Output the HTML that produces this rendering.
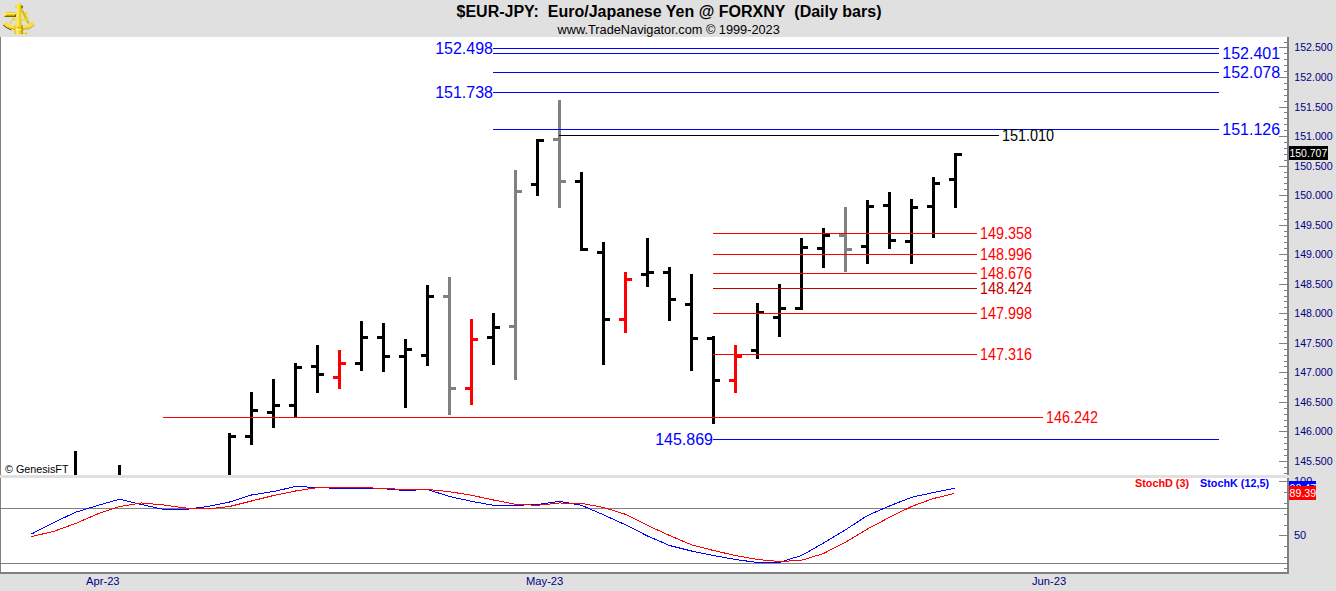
<!DOCTYPE html>
<html><head><meta charset="utf-8"><title>$EUR-JPY</title>
<style>
html,body{margin:0;padding:0;background:#e0e0e0;}
body{width:1336px;height:591px;overflow:hidden;position:relative;font-family:"Liberation Sans",sans-serif;}
svg{position:absolute;left:0;top:0;}
text{font-family:"Liberation Sans",sans-serif;}
</style></head><body>
<svg width="1336" height="591" viewBox="0 0 1336 591">
<rect x="0" y="0" width="1336" height="591" fill="#e0e0e0"/>
<rect x="0" y="37" width="1287" height="438" fill="#fff"/>
<rect x="0" y="478" width="1287" height="94" fill="#fff"/>
<g shape-rendering="crispEdges">

<rect x="0" y="37" width="1" height="438" fill="#808080"/>
<rect x="0" y="478" width="1" height="96" fill="#808080"/>
<rect x="1287" y="37" width="2" height="438" fill="#808080"/>
<rect x="1287" y="478" width="2" height="96" fill="#808080"/>
<rect x="0" y="572" width="1289" height="2" fill="#808080"/>
<rect x="1" y="508" width="1286" height="1" fill="#808080"/>
<rect x="1" y="563" width="1286" height="1" fill="#808080"/>
<rect x="1284" y="42" width="3" height="1" fill="#808080"/>
<rect x="1279" y="47" width="8" height="1" fill="#808080"/>
<rect x="1284" y="53" width="3" height="1" fill="#808080"/>
<rect x="1284" y="59" width="3" height="1" fill="#808080"/>
<rect x="1284" y="65" width="3" height="1" fill="#808080"/>
<rect x="1284" y="71" width="3" height="1" fill="#808080"/>
<rect x="1279" y="77" width="8" height="1" fill="#808080"/>
<rect x="1284" y="83" width="3" height="1" fill="#808080"/>
<rect x="1284" y="89" width="3" height="1" fill="#808080"/>
<rect x="1284" y="95" width="3" height="1" fill="#808080"/>
<rect x="1284" y="101" width="3" height="1" fill="#808080"/>
<rect x="1279" y="107" width="8" height="1" fill="#808080"/>
<rect x="1284" y="112" width="3" height="1" fill="#808080"/>
<rect x="1284" y="118" width="3" height="1" fill="#808080"/>
<rect x="1284" y="124" width="3" height="1" fill="#808080"/>
<rect x="1284" y="130" width="3" height="1" fill="#808080"/>
<rect x="1279" y="136" width="8" height="1" fill="#808080"/>
<rect x="1284" y="142" width="3" height="1" fill="#808080"/>
<rect x="1284" y="148" width="3" height="1" fill="#808080"/>
<rect x="1284" y="154" width="3" height="1" fill="#808080"/>
<rect x="1284" y="160" width="3" height="1" fill="#808080"/>
<rect x="1279" y="166" width="8" height="1" fill="#808080"/>
<rect x="1284" y="172" width="3" height="1" fill="#808080"/>
<rect x="1284" y="177" width="3" height="1" fill="#808080"/>
<rect x="1284" y="183" width="3" height="1" fill="#808080"/>
<rect x="1284" y="189" width="3" height="1" fill="#808080"/>
<rect x="1279" y="195" width="8" height="1" fill="#808080"/>
<rect x="1284" y="201" width="3" height="1" fill="#808080"/>
<rect x="1284" y="207" width="3" height="1" fill="#808080"/>
<rect x="1284" y="213" width="3" height="1" fill="#808080"/>
<rect x="1284" y="219" width="3" height="1" fill="#808080"/>
<rect x="1279" y="225" width="8" height="1" fill="#808080"/>
<rect x="1284" y="231" width="3" height="1" fill="#808080"/>
<rect x="1284" y="236" width="3" height="1" fill="#808080"/>
<rect x="1284" y="242" width="3" height="1" fill="#808080"/>
<rect x="1284" y="248" width="3" height="1" fill="#808080"/>
<rect x="1279" y="254" width="8" height="1" fill="#808080"/>
<rect x="1284" y="260" width="3" height="1" fill="#808080"/>
<rect x="1284" y="266" width="3" height="1" fill="#808080"/>
<rect x="1284" y="272" width="3" height="1" fill="#808080"/>
<rect x="1284" y="278" width="3" height="1" fill="#808080"/>
<rect x="1279" y="284" width="8" height="1" fill="#808080"/>
<rect x="1284" y="290" width="3" height="1" fill="#808080"/>
<rect x="1284" y="296" width="3" height="1" fill="#808080"/>
<rect x="1284" y="301" width="3" height="1" fill="#808080"/>
<rect x="1284" y="307" width="3" height="1" fill="#808080"/>
<rect x="1279" y="313" width="8" height="1" fill="#808080"/>
<rect x="1284" y="319" width="3" height="1" fill="#808080"/>
<rect x="1284" y="325" width="3" height="1" fill="#808080"/>
<rect x="1284" y="331" width="3" height="1" fill="#808080"/>
<rect x="1284" y="337" width="3" height="1" fill="#808080"/>
<rect x="1279" y="343" width="8" height="1" fill="#808080"/>
<rect x="1284" y="349" width="3" height="1" fill="#808080"/>
<rect x="1284" y="355" width="3" height="1" fill="#808080"/>
<rect x="1284" y="361" width="3" height="1" fill="#808080"/>
<rect x="1284" y="366" width="3" height="1" fill="#808080"/>
<rect x="1279" y="372" width="8" height="1" fill="#808080"/>
<rect x="1284" y="378" width="3" height="1" fill="#808080"/>
<rect x="1284" y="384" width="3" height="1" fill="#808080"/>
<rect x="1284" y="390" width="3" height="1" fill="#808080"/>
<rect x="1284" y="396" width="3" height="1" fill="#808080"/>
<rect x="1279" y="402" width="8" height="1" fill="#808080"/>
<rect x="1284" y="408" width="3" height="1" fill="#808080"/>
<rect x="1284" y="414" width="3" height="1" fill="#808080"/>
<rect x="1284" y="420" width="3" height="1" fill="#808080"/>
<rect x="1284" y="426" width="3" height="1" fill="#808080"/>
<rect x="1279" y="431" width="8" height="1" fill="#808080"/>
<rect x="1284" y="437" width="3" height="1" fill="#808080"/>
<rect x="1284" y="443" width="3" height="1" fill="#808080"/>
<rect x="1284" y="449" width="3" height="1" fill="#808080"/>
<rect x="1284" y="455" width="3" height="1" fill="#808080"/>
<rect x="1279" y="461" width="8" height="1" fill="#808080"/>
<rect x="1284" y="467" width="3" height="1" fill="#808080"/>
<rect x="1284" y="473" width="3" height="1" fill="#808080"/>
<rect x="1279" y="481" width="8" height="1" fill="#808080"/>
<rect x="1284" y="492" width="3" height="1" fill="#808080"/>
<rect x="1284" y="503" width="3" height="1" fill="#808080"/>
<rect x="1284" y="514" width="3" height="1" fill="#808080"/>
<rect x="1284" y="525" width="3" height="1" fill="#808080"/>
<rect x="1279" y="535" width="8" height="1" fill="#808080"/>
<rect x="1284" y="546" width="3" height="1" fill="#808080"/>
<rect x="1284" y="557" width="3" height="1" fill="#808080"/>
<rect x="1284" y="568" width="3" height="1" fill="#808080"/>
<rect x="74" y="451" width="3" height="24" fill="#000"/>
<rect x="118" y="465" width="3" height="10" fill="#000"/>
<rect x="228" y="433" width="3" height="42" fill="#000"/>
<rect x="231" y="435" width="5" height="3" fill="#000"/>
<rect x="250" y="392" width="3" height="53" fill="#000"/>
<rect x="245" y="435" width="5" height="3" fill="#000"/>
<rect x="253" y="409" width="5" height="3" fill="#000"/>
<rect x="272" y="379" width="3" height="49" fill="#000"/>
<rect x="267" y="411" width="5" height="3" fill="#000"/>
<rect x="275" y="404" width="5" height="3" fill="#000"/>
<rect x="294" y="363" width="3" height="54" fill="#000"/>
<rect x="289" y="404" width="5" height="3" fill="#000"/>
<rect x="297" y="366" width="5" height="3" fill="#000"/>
<rect x="316" y="345" width="3" height="48" fill="#000"/>
<rect x="311" y="365" width="5" height="3" fill="#000"/>
<rect x="319" y="373" width="5" height="3" fill="#000"/>
<rect x="338" y="350" width="3" height="39" fill="#f00"/>
<rect x="333" y="376" width="5" height="3" fill="#f00"/>
<rect x="341" y="362" width="5" height="3" fill="#f00"/>
<rect x="360" y="321" width="3" height="50" fill="#000"/>
<rect x="355" y="362" width="5" height="3" fill="#000"/>
<rect x="363" y="336" width="5" height="3" fill="#000"/>
<rect x="382" y="323" width="3" height="49" fill="#000"/>
<rect x="377" y="336" width="5" height="3" fill="#000"/>
<rect x="385" y="355" width="5" height="3" fill="#000"/>
<rect x="404" y="339" width="3" height="69" fill="#000"/>
<rect x="399" y="355" width="5" height="3" fill="#000"/>
<rect x="407" y="348" width="5" height="3" fill="#000"/>
<rect x="426" y="285" width="3" height="81" fill="#000"/>
<rect x="421" y="354" width="5" height="3" fill="#000"/>
<rect x="429" y="295" width="5" height="3" fill="#000"/>
<rect x="448" y="277" width="3" height="138" fill="#808080"/>
<rect x="443" y="295" width="5" height="3" fill="#808080"/>
<rect x="451" y="387" width="5" height="3" fill="#808080"/>
<rect x="470" y="319" width="3" height="86" fill="#f00"/>
<rect x="465" y="387" width="5" height="3" fill="#f00"/>
<rect x="473" y="338" width="5" height="3" fill="#f00"/>
<rect x="492" y="313" width="3" height="52" fill="#000"/>
<rect x="487" y="336" width="5" height="3" fill="#000"/>
<rect x="495" y="326" width="5" height="3" fill="#000"/>
<rect x="514" y="170" width="3" height="210" fill="#808080"/>
<rect x="509" y="325" width="5" height="3" fill="#808080"/>
<rect x="517" y="190" width="5" height="3" fill="#808080"/>
<rect x="536" y="139" width="3" height="57" fill="#000"/>
<rect x="531" y="183" width="5" height="3" fill="#000"/>
<rect x="539" y="139" width="5" height="3" fill="#000"/>
<rect x="558" y="100" width="3" height="108" fill="#808080"/>
<rect x="553" y="138" width="5" height="3" fill="#808080"/>
<rect x="561" y="180" width="5" height="3" fill="#808080"/>
<rect x="580" y="172" width="3" height="79" fill="#000"/>
<rect x="575" y="180" width="5" height="3" fill="#000"/>
<rect x="583" y="248" width="5" height="3" fill="#000"/>
<rect x="602" y="242" width="3" height="123" fill="#000"/>
<rect x="597" y="251" width="5" height="3" fill="#000"/>
<rect x="605" y="318" width="5" height="3" fill="#000"/>
<rect x="624" y="272" width="3" height="61" fill="#f00"/>
<rect x="619" y="318" width="5" height="3" fill="#f00"/>
<rect x="627" y="278" width="5" height="3" fill="#f00"/>
<rect x="646" y="238" width="3" height="49" fill="#000"/>
<rect x="641" y="273" width="5" height="3" fill="#000"/>
<rect x="649" y="271" width="5" height="3" fill="#000"/>
<rect x="668" y="267" width="3" height="54" fill="#000"/>
<rect x="663" y="271" width="5" height="3" fill="#000"/>
<rect x="671" y="298" width="5" height="3" fill="#000"/>
<rect x="690" y="274" width="3" height="97" fill="#000"/>
<rect x="685" y="303" width="5" height="3" fill="#000"/>
<rect x="693" y="337" width="5" height="3" fill="#000"/>
<rect x="712" y="336" width="3" height="88" fill="#000"/>
<rect x="707" y="337" width="5" height="3" fill="#000"/>
<rect x="715" y="379" width="5" height="3" fill="#000"/>
<rect x="734" y="345" width="3" height="48" fill="#f00"/>
<rect x="729" y="379" width="5" height="3" fill="#f00"/>
<rect x="737" y="355" width="5" height="3" fill="#f00"/>
<rect x="756" y="303" width="3" height="56" fill="#000"/>
<rect x="751" y="349" width="5" height="3" fill="#000"/>
<rect x="759" y="311" width="5" height="3" fill="#000"/>
<rect x="778" y="284" width="3" height="53" fill="#000"/>
<rect x="773" y="316" width="5" height="3" fill="#000"/>
<rect x="781" y="307" width="5" height="3" fill="#000"/>
<rect x="800" y="238" width="3" height="72" fill="#000"/>
<rect x="795" y="307" width="5" height="3" fill="#000"/>
<rect x="803" y="246" width="5" height="3" fill="#000"/>
<rect x="822" y="228" width="3" height="40" fill="#000"/>
<rect x="817" y="247" width="5" height="3" fill="#000"/>
<rect x="825" y="234" width="5" height="3" fill="#000"/>
<rect x="844" y="207" width="3" height="65" fill="#808080"/>
<rect x="839" y="234" width="5" height="3" fill="#808080"/>
<rect x="847" y="248" width="5" height="3" fill="#808080"/>
<rect x="866" y="200" width="3" height="64" fill="#000"/>
<rect x="861" y="245" width="5" height="3" fill="#000"/>
<rect x="869" y="205" width="5" height="3" fill="#000"/>
<rect x="888" y="192" width="3" height="57" fill="#000"/>
<rect x="883" y="204" width="5" height="3" fill="#000"/>
<rect x="891" y="239" width="5" height="3" fill="#000"/>
<rect x="910" y="199" width="3" height="65" fill="#000"/>
<rect x="905" y="240" width="5" height="3" fill="#000"/>
<rect x="913" y="206" width="5" height="3" fill="#000"/>
<rect x="932" y="177" width="3" height="61" fill="#000"/>
<rect x="927" y="205" width="5" height="3" fill="#000"/>
<rect x="935" y="182" width="5" height="3" fill="#000"/>
<rect x="954" y="153" width="3" height="55" fill="#000"/>
<rect x="949" y="178" width="5" height="3" fill="#000"/>
<rect x="957" y="153" width="5" height="3" fill="#000"/>
<rect x="493" y="48" width="726" height="1" fill="#0000ff"/>
<rect x="493" y="53" width="726" height="1" fill="#0000ff"/>
<rect x="493" y="72" width="726" height="1" fill="#0000ff"/>
<rect x="493" y="92" width="726" height="1" fill="#0000ff"/>
<rect x="493" y="129" width="726" height="1" fill="#0000ff"/>
<rect x="559" y="135" width="440" height="1" fill="#000"/>
<rect x="713" y="233" width="264" height="1" fill="#f00"/>
<rect x="713" y="254" width="264" height="1" fill="#f00"/>
<rect x="713" y="273" width="264" height="1" fill="#f00"/>
<rect x="713" y="288" width="264" height="1" fill="#c00000"/>
<rect x="713" y="313" width="264" height="1" fill="#f00"/>
<rect x="713" y="354" width="264" height="1" fill="#f00"/>
<rect x="163" y="417" width="880" height="1" fill="#f00"/>
<rect x="713" y="439" width="506" height="1" fill="#0000ff"/>
</g>
<polyline points="31.5,534 53.5,522.6 75.5,512.3 97.5,505.5 119.5,499.2 141.5,504.5 163.5,509.4 185.5,509.4 207.5,506.5 229.5,502 251.5,495 273.5,491.5 295.5,486.5 317.5,487.5 339.5,488.5 361.5,488.5 383.5,488.7 405.5,490.5 427.5,489.5 449.5,496.5 471.5,501.3 493.5,505.3 515.5,505.3 537.5,504.5 559.5,501.3 581.5,505.3 603.5,514.8 625.5,524.8 647.5,536 669.5,545.5 691.5,551 713.5,555.5 735.5,559.5 757.5,562.5 779.5,562.3 801.5,555.5 823.5,543 845.5,529.8 867.5,515.5 889.5,506 911.5,497.3 933.5,492.5 954.5,488.3" fill="none" stroke="#00f" stroke-width="1" shape-rendering="crispEdges"/>
<polyline points="31.5,536.5 53.5,531.5 75.5,523.5 97.5,514 119.5,506.5 141.5,503 163.5,505 185.5,508 207.5,509 229.5,506.5 251.5,501 273.5,495.5 295.5,491 317.5,487.6 339.5,487.5 361.5,487.5 383.5,488.5 405.5,489.5 427.5,489.5 449.5,491.7 471.5,495.3 493.5,500 515.5,504.3 537.5,505.3 559.5,503 581.5,503.3 603.5,507.5 625.5,514.3 647.5,525.4 669.5,535.5 691.5,544.8 713.5,550.5 735.5,555.5 757.5,559.5 779.5,561.5 801.5,560.3 823.5,553.5 845.5,542.3 867.5,529 889.5,517.3 911.5,506.5 933.5,498.5 954.5,493.5" fill="none" stroke="#f00" stroke-width="1" shape-rendering="crispEdges"/>
<text x="669" y="17.4" font-size="16" fill="#000" text-anchor="middle" font-weight="bold">$EUR-JPY:&#160; Euro/Japanese Yen @ FORXNY&#160; (Daily bars)</text>
<text x="668.7" y="33.5" font-size="12.75" fill="#000" text-anchor="middle" font-weight="normal">www.TradeNavigator.com © 1999-2023</text>
<text x="1294.3" y="51" font-size="10.6" fill="#000080" text-anchor="start" font-weight="normal">152.500</text>
<text x="1294.3" y="81" font-size="10.6" fill="#000080" text-anchor="start" font-weight="normal">152.000</text>
<text x="1294.3" y="111" font-size="10.6" fill="#000080" text-anchor="start" font-weight="normal">151.500</text>
<text x="1294.3" y="140" font-size="10.6" fill="#000080" text-anchor="start" font-weight="normal">151.000</text>
<text x="1294.3" y="170" font-size="10.6" fill="#000080" text-anchor="start" font-weight="normal">150.500</text>
<text x="1294.3" y="199" font-size="10.6" fill="#000080" text-anchor="start" font-weight="normal">150.000</text>
<text x="1294.3" y="229" font-size="10.6" fill="#000080" text-anchor="start" font-weight="normal">149.500</text>
<text x="1294.3" y="258" font-size="10.6" fill="#000080" text-anchor="start" font-weight="normal">149.000</text>
<text x="1294.3" y="288" font-size="10.6" fill="#000080" text-anchor="start" font-weight="normal">148.500</text>
<text x="1294.3" y="317" font-size="10.6" fill="#000080" text-anchor="start" font-weight="normal">148.000</text>
<text x="1294.3" y="347" font-size="10.6" fill="#000080" text-anchor="start" font-weight="normal">147.500</text>
<text x="1294.3" y="376" font-size="10.6" fill="#000080" text-anchor="start" font-weight="normal">147.000</text>
<text x="1294.3" y="406" font-size="10.6" fill="#000080" text-anchor="start" font-weight="normal">146.500</text>
<text x="1294.3" y="435" font-size="10.6" fill="#000080" text-anchor="start" font-weight="normal">146.000</text>
<text x="1294.3" y="465" font-size="10.6" fill="#000080" text-anchor="start" font-weight="normal">145.500</text>
<text x="1294" y="485" font-size="11" fill="#000080" text-anchor="start" font-weight="normal">100</text>
<text x="1294" y="539" font-size="11" fill="#000080" text-anchor="start" font-weight="normal">50</text>
<text x="493" y="54" font-size="16" fill="#0000ff" text-anchor="end" font-weight="normal">152.498</text>
<text x="493" y="98" font-size="16" fill="#0000ff" text-anchor="end" font-weight="normal">151.738</text>
<text x="713" y="445" font-size="16" fill="#0000ff" text-anchor="end" font-weight="normal">145.869</text>
<text x="1222.3" y="59" font-size="16" fill="#0000ff" text-anchor="start" font-weight="normal">152.401</text>
<text x="1222.3" y="78" font-size="16" fill="#0000ff" text-anchor="start" font-weight="normal">152.078</text>
<text x="1222.3" y="135" font-size="16" fill="#0000ff" text-anchor="start" font-weight="normal">151.126</text>
<text x="1002" y="141" font-size="16" fill="#000" text-anchor="start" textLength="52" lengthAdjust="spacingAndGlyphs">151.010</text>
<text x="979.9" y="239" font-size="16" fill="#f00" text-anchor="start" textLength="52" lengthAdjust="spacingAndGlyphs">149.358</text>
<text x="979.9" y="260" font-size="16" fill="#f00" text-anchor="start" textLength="52" lengthAdjust="spacingAndGlyphs">148.996</text>
<text x="979.9" y="279" font-size="16" fill="#f00" text-anchor="start" textLength="52" lengthAdjust="spacingAndGlyphs">148.676</text>
<text x="979.9" y="294" font-size="16" fill="#c00000" text-anchor="start" textLength="52" lengthAdjust="spacingAndGlyphs">148.424</text>
<text x="979.9" y="319" font-size="16" fill="#f00" text-anchor="start" textLength="52" lengthAdjust="spacingAndGlyphs">147.998</text>
<text x="979.9" y="360" font-size="16" fill="#f00" text-anchor="start" textLength="52" lengthAdjust="spacingAndGlyphs">147.316</text>
<text x="1045.9" y="423" font-size="16" fill="#f00" text-anchor="start" textLength="52" lengthAdjust="spacingAndGlyphs">146.242</text>
<text x="5" y="473" font-size="10.75" fill="#000" text-anchor="start" font-weight="normal">© GenesisFT</text>
<text x="1135" y="487" font-size="10.8" fill="#f00" text-anchor="start" font-weight="bold">StochD (3)</text>
<text x="1200" y="487" font-size="10.8" fill="#00f" text-anchor="start" font-weight="bold">StochK (12,5)</text>
<text x="86" y="585" font-size="11.2" fill="#000080" text-anchor="start" font-weight="normal">Apr-23</text>
<text x="526" y="585" font-size="11.2" fill="#000080" text-anchor="start" font-weight="normal">May-23</text>
<text x="1032" y="585" font-size="11.2" fill="#000080" text-anchor="start" font-weight="normal">Jun-23</text>
<rect x="1289" y="146" width="39" height="14" fill="#000" shape-rendering="crispEdges"/>
<text x="1289.5" y="157" font-size="10.45" fill="#fff" text-anchor="start" font-weight="normal">150.707</text>
<rect x="1289" y="481" width="27" height="14" fill="#00f" shape-rendering="crispEdges"/>
<text x="1289.6" y="492" font-size="10.6" fill="#fff" text-anchor="start" font-weight="normal">90.47</text>
<rect x="1289" y="486" width="27" height="14" fill="#f00" shape-rendering="crispEdges"/>
<text x="1289.6" y="497" font-size="10.6" fill="#fff" text-anchor="start" font-weight="normal">89.39</text>

<defs>
<linearGradient id="gTel" x1="0" y1="0" x2="0" y2="1"><stop offset="0" stop-color="#e4ba00"/><stop offset="0.28" stop-color="#fff27a"/><stop offset="0.6" stop-color="#e2bc00"/><stop offset="0.85" stop-color="#a07c00"/><stop offset="1" stop-color="#4a3600"/></linearGradient>
<linearGradient id="gArm" x1="0" y1="0" x2="1" y2="0"><stop offset="0" stop-color="#e6bf00"/><stop offset="0.35" stop-color="#fff06a"/><stop offset="0.7" stop-color="#f0cc10"/><stop offset="1" stop-color="#b08a00"/></linearGradient>
<linearGradient id="gArc" x1="0" y1="0" x2="0" y2="1"><stop offset="0" stop-color="#f4d21a"/><stop offset="0.55" stop-color="#f8dc30"/><stop offset="1" stop-color="#c9a200"/></linearGradient>
</defs>
<g id="logo">
<path d="M3.4 24.8 A24.3 24.3 0 0 0 34.6 24.8 L32.2 22 A20.6 20.6 0 0 1 5.8 22 Z" fill="url(#gArc)"/><path d="M5.2 23.3 A22.3 22.3 0 0 0 32.8 23.3" fill="none" stroke="#fff27a" stroke-width="0.9" opacity="0.75"/>
<path d="M3.2 25.2 A24.6 24.6 0 0 0 11.5 30" fill="none" stroke="#5e4700" stroke-width="1"/>
<path d="M27 29.8 A24.4 24.4 0 0 0 34.5 25.1" fill="none" stroke="#c8a000" stroke-width="0.7"/>
<line x1="17.6" y1="12.2" x2="9.6" y2="23.8" stroke="#f2d21c" stroke-width="1.4"/>
<line x1="21" y1="9.2" x2="28.4" y2="23.6" stroke="#e8c20a" stroke-width="2"/>
<line x1="22.3" y1="9.6" x2="29.3" y2="23.2" stroke="#8a6c00" stroke-width="0.5" opacity="0.7"/>
<line x1="12.4" y1="19.7" x2="27.4" y2="19.7" stroke="#f4d624" stroke-width="1.5"/>
<path d="M24.2 12.4 L26.8 11.4 L27.6 14.6 L25.6 15.4 Z M25.8 16.2 L28 15.6 L28.6 18.6 L26.8 19 Z" fill="#f6da28"/>
<rect x="4.1" y="12.1" width="11.6" height="4.9" rx="1.2" fill="url(#gTel)"/><rect x="14.9" y="14.4" width="1" height="2.6" fill="#4a3600" opacity="0.8"/>
<rect x="4.1" y="12.6" width="1.4" height="3.6" rx="0.6" fill="#fff38a"/>
<path d="M19 2.8 L22.9 5.9 L22.2 8.4 L16 8.4 L15.1 5.9 Z" fill="url(#gArm)"/>
<path d="M21.6 5.4 L23.2 6.2 L22.6 8.6 L21.2 8.4 Z" fill="#6b5200" opacity="0.75"/>
<path d="M17.3 6.6 L20.8 6.6 L21.4 24.6 L22.9 25.4 L22.9 34.2 L14.3 34.2 L14.3 25.4 L16.5 24.6 Z" fill="url(#gArm)"/>
<rect x="16" y="29.2" width="5.2" height="1.1" fill="#fff6a0" opacity="0.8"/>
<rect x="17" y="27.2" width="3" height="0.7" fill="#a88400" opacity="0.8"/>
<rect x="22.9" y="32.9" width="3.4" height="1.1" fill="#f0cc18"/>
<rect x="25.8" y="32" width="1.4" height="2.9" rx="0.4" fill="#f4d21a"/>
</g>

</svg></body></html>
